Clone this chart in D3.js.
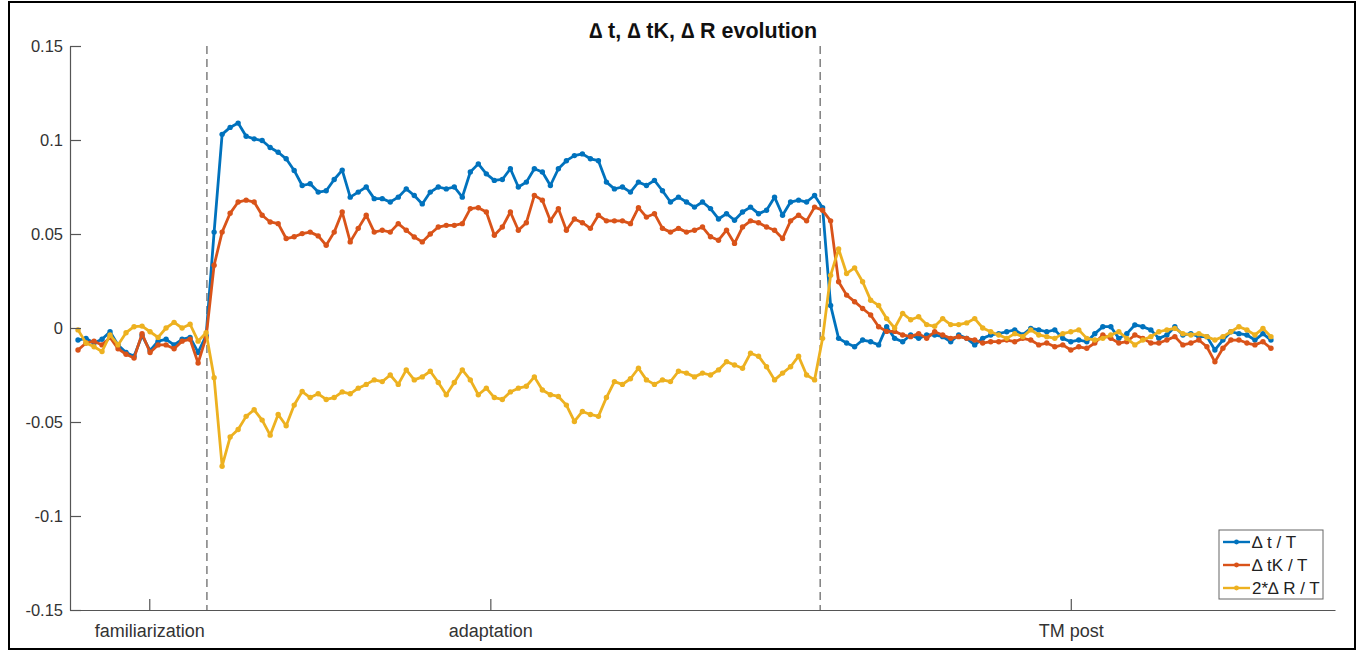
<!DOCTYPE html>
<html>
<head>
<meta charset="utf-8">
<script src="https://cdn.jsdelivr.net/npm/d3@7"></script>
<style>
  body { margin: 0; background: #fff; }
  text { font-family: "Liberation Sans", Arial, sans-serif; }
</style>
</head>
<body>
<svg id="drawing_region"></svg>
<script>
// sample values, one every stride (index 0..149)
const dt = [
  -0.0064, -0.0055, -0.008, -0.006, -0.002, -0.009, -0.013, -0.015, -0.004, -0.012, -0.007, -0.006, -0.009, -0.006, -0.005, -0.013, -0.004,
  0.051, 0.103, 0.1067, 0.109, 0.102, 0.1006, 0.0997, 0.096, 0.0935, 0.090, 0.0838, 0.0758, 0.0767, 0.0723, 0.073, 0.079, 0.084, 0.0696, 0.0723, 0.075, 0.0688,
  0.0688, 0.067, 0.0696, 0.074, 0.0705, 0.066, 0.0723, 0.075, 0.074, 0.075, 0.0696, 0.083, 0.0873, 0.082, 0.0785, 0.079, 0.0847, 0.075, 0.0776, 0.0847,
  0.083, 0.0758, 0.0847, 0.089, 0.0917, 0.0926, 0.090, 0.089, 0.0776, 0.074, 0.075, 0.0723, 0.0776, 0.0758, 0.0785, 0.073, 0.067, 0.0696,
  0.067, 0.0643, 0.067, 0.0635, 0.058, 0.0608, 0.0573, 0.0617, 0.0643, 0.0608, 0.0626, 0.0696, 0.060, 0.067, 0.068, 0.067, 0.0705, 0.064,
  0.012, -0.0055, -0.008, -0.010, -0.0064, -0.0073, -0.009, 0.0007, -0.0055, -0.0073, -0.0037, -0.0055, -0.0037, -0.0037, -0.0046, -0.0073, -0.0037, -0.0055, -0.009, -0.0055,
  -0.0037, -0.003, -0.002, -0.001, -0.0037, -0.0002, -0.001, -0.002, -0.001, -0.0055, -0.0073, -0.0064, -0.0073, -0.003, 0.0007, 0.0007, -0.0055, -0.003,
  0.0016, 0.0007, -0.001, -0.0055, -0.0037, 0.0007, -0.0037, -0.003, -0.0046, -0.0046, -0.0117, -0.0064, -0.002, -0.003, -0.0037, -0.0064, -0.003, -0.0064
];
const dtK = [
  -0.0117, -0.008, -0.007, -0.009, -0.005, -0.011, -0.014, -0.016, -0.003, -0.013, -0.009, -0.009, -0.011, -0.007, -0.006, -0.0186, -0.005,
  0.0334, 0.051, 0.061, 0.067, 0.068, 0.067, 0.060, 0.0564, 0.0555, 0.0476, 0.0485, 0.0502, 0.051, 0.049, 0.044, 0.051, 0.0617, 0.0458, 0.053, 0.060, 0.051,
  0.052, 0.051, 0.0555, 0.052, 0.0484, 0.0458, 0.050, 0.0537, 0.0546, 0.0546, 0.0555, 0.0635, 0.064, 0.0617, 0.0493, 0.0537, 0.0617, 0.052, 0.056, 0.0705,
  0.068, 0.057, 0.0635, 0.052, 0.058, 0.056, 0.053, 0.060, 0.057, 0.057, 0.057, 0.0555, 0.064, 0.059, 0.0608, 0.053, 0.051, 0.053,
  0.051, 0.052, 0.0537, 0.0485, 0.0467, 0.052, 0.045, 0.0537, 0.057, 0.056, 0.0537, 0.052, 0.0476, 0.057, 0.060, 0.057, 0.0643, 0.0626,
  0.057, 0.0246, 0.0175, 0.014, 0.0104, 0.0069, 0.0007, -0.0018, -0.0018, -0.0037, -0.0046, -0.003, -0.0055, -0.002, -0.0037, -0.0055, -0.0046, -0.0055, -0.0064, -0.008,
  -0.0073, -0.0073, -0.0064, -0.0073, -0.0055, -0.0064, -0.009, -0.008, -0.010, -0.009, -0.0117, -0.010, -0.0108, -0.008, -0.0037, -0.0055, -0.008, -0.0073,
  -0.0037, -0.0055, -0.008, -0.008, -0.0064, -0.0046, -0.009, -0.008, -0.0064, -0.010, -0.018, -0.0108, -0.0064, -0.0064, -0.008, -0.009, -0.0073, -0.0108
];
const dR2 = [
  -0.001, -0.008, -0.010, -0.0125, -0.0037, -0.009, -0.0025, 0.0007, 0.001, -0.002, -0.005, 0.000, 0.003, 0.000, 0.002, -0.007, -0.0025,
  -0.0265, -0.0735, -0.058, -0.054, -0.047, -0.0435, -0.049, -0.057, -0.046, -0.052, -0.041, -0.0338, -0.037, -0.035, -0.038, -0.037, -0.034, -0.035, -0.032, -0.030, -0.0276,
  -0.0285, -0.025, -0.030, -0.0223, -0.0276, -0.026, -0.023, -0.029, -0.0355, -0.029, -0.0223, -0.0276, -0.0355, -0.032, -0.037, -0.038, -0.034, -0.032, -0.031, -0.026,
  -0.033, -0.0355, -0.0364, -0.041, -0.0497, -0.0444, -0.046, -0.047, -0.037, -0.0285, -0.030, -0.027, -0.0214, -0.0276, -0.030, -0.0276, -0.0285, -0.023,
  -0.024, -0.026, -0.024, -0.025, -0.0223, -0.0179, -0.0197, -0.0214, -0.0134, -0.015, -0.0206, -0.0276, -0.024, -0.0206, -0.015, -0.025, -0.0276, -0.0055,
  0.028, 0.042, 0.029, 0.032, 0.0246, 0.0148, 0.012, 0.005, 0.000, 0.0078, 0.0044, 0.006, 0.0018, 0.0009, 0.005, 0.0018, 0.0018, 0.0027, 0.005, 0.000,
  -0.002, -0.0037, -0.0055, -0.003, -0.0046, -0.001, -0.0037, -0.0046, -0.0055, -0.003, -0.002, -0.001, -0.0055, -0.0064, -0.0055, -0.0037, -0.002, -0.0055,
  -0.009, -0.0064, -0.0046, -0.002, -0.001, -0.0002, -0.003, -0.0037, -0.003, -0.0046, -0.0064, -0.0046, -0.002, 0.0007, -0.001, -0.0037, -0.0002, -0.0046
];

const seriesNames = ['\u2206 t / T', '\u2206 tK / T', '2*\u2206 R / T'];
const seriesColors = ['#0072BD', '#D95319', '#EDB120'];
const phaseBounds = [16.1, 92.7];
const phaseTicks = [8.9, 51.5, 124];
const phaseLabels = ['familiarization', 'adaptation', 'TM post'];
const yTicks = [-0.15, -0.1, -0.05, 0, 0.05, 0.1, 0.15];
const chartTitle = '\u2206 t, \u2206 tK, \u2206 R evolution';

class EvolutionChart {
    constructor( config, series ) {
        this.config = config;
        this.series = series;
        this.init();
    }
    init() {
        let self = this;
        self.svg = d3.select( self.config.parent )
            .attr('width', self.config.width)
            .attr('height', self.config.height);

        // outer frame
        self.svg.append('rect')
            .attr('x', 9).attr('y', 2)
            .attr('width', 1346).attr('height', 647)
            .attr('fill', 'none')
            .attr('stroke', '#000')
            .attr('stroke-width', 2);

        self.chart = self.svg.append('g')
            .attr('transform', `translate(${self.config.margin.left}, ${self.config.margin.top})`);
        self.inner_width = self.config.width - self.config.margin.left - self.config.margin.right;
        self.inner_height = self.config.height - self.config.margin.top - self.config.margin.bottom;

        self.xscale = d3.scaleLinear()
            .domain([-1, 157])
            .range([0, self.inner_width]);
        self.yscale = d3.scaleLinear()
            .domain([-0.15, 0.15])
            .range([self.inner_height, 0]);

        self.xaxis = d3.axisBottom( self.xscale )
            .tickValues(phaseTicks)
            .tickFormat((d, i) => phaseLabels[i])
            .tickSizeInner(-11)
            .tickSizeOuter(0)
            .tickPadding(14);
        self.yaxis = d3.axisLeft( self.yscale )
            .tickValues(yTicks)
            .tickFormat(d => String(+d.toFixed(2)))
            .tickSizeInner(-11)
            .tickSizeOuter(0)
            .tickPadding(7);
    }
    render() {
        let self = this;

        // phase separators
        self.chart.selectAll('.sep')
            .data(phaseBounds)
            .join('line')
            .attr('x1', d => self.xscale(d)).attr('x2', d => self.xscale(d))
            .attr('y1', 0).attr('y2', self.inner_height)
            .attr('stroke', '#7f7f7f')
            .attr('stroke-width', 1.5)
            .attr('stroke-dasharray', '8,5');

        const line = d3.line()
            .x( (d, i) => self.xscale(i) )
            .y( d => self.yscale(d) );

        self.series.forEach( (vals, k) => {
            const g = self.chart.append('g');
            g.append('path')
                .attr('d', line(vals))
                .attr('stroke', seriesColors[k])
                .attr('stroke-width', 2.8)
                .attr('stroke-linejoin', 'round')
                .attr('fill', 'none');
            g.selectAll('circle')
                .data(vals)
                .join('circle')
                .attr('cx', (d, i) => self.xscale(i))
                .attr('cy', d => self.yscale(d))
                .attr('r', 2.7)
                .attr('fill', seriesColors[k]);
        });

        const xg = self.chart.append('g')
            .attr('transform', `translate(0, ${self.inner_height})`)
            .call( self.xaxis );
        const yg = self.chart.append('g')
            .call( self.yaxis );
        [xg, yg].forEach( g => {
            g.select('.domain').attr('stroke', '#555').attr('stroke-width', 1.2);
            g.selectAll('.tick line').attr('stroke', '#555').attr('stroke-width', 1.2);
            g.selectAll('text')
                .attr('fill', '#333')
                .style('font-family', '"Liberation Sans", Arial, sans-serif');
        });
        xg.selectAll('text').style('font-size', '18px');
        yg.selectAll('text').style('font-size', '16.5px');

        self.svg.append('text')
            .attr('x', 703).attr('y', 38)
            .attr('text-anchor', 'middle')
            .style('font-size', '21.5px')
            .style('font-weight', 'bold')
            .attr('fill', '#111')
            .text(chartTitle);

        // legend
        const lg = self.svg.append('g').attr('transform', 'translate(1219, 530)');
        lg.append('rect')
            .attr('width', 104).attr('height', 69)
            .attr('fill', '#fff')
            .attr('stroke', '#666')
            .attr('stroke-width', 1);
        seriesNames.forEach( (name, k) => {
            const y = 12 + k * 23;
            lg.append('line')
                .attr('x1', 4).attr('x2', 31)
                .attr('y1', y).attr('y2', y)
                .attr('stroke', seriesColors[k])
                .attr('stroke-width', 2.4);
            lg.append('circle')
                .attr('cx', 17.5).attr('cy', y).attr('r', 2.4)
                .attr('fill', seriesColors[k]);
            lg.append('text')
                .attr('x', 33).attr('y', y)
                .attr('dy', '0.35em')
                .attr('fill', '#222')
                .style('font-size', '17px')
                .text(name);
        });
    }
}

const config = {
    parent: '#drawing_region',
    width: 1368,
    height: 655,
    margin: {top: 46, right: 33, bottom: 45, left: 70}
};
const chart = new EvolutionChart( config, [dt, dtK, dR2] );
chart.render();
</script>
</body>
</html>
